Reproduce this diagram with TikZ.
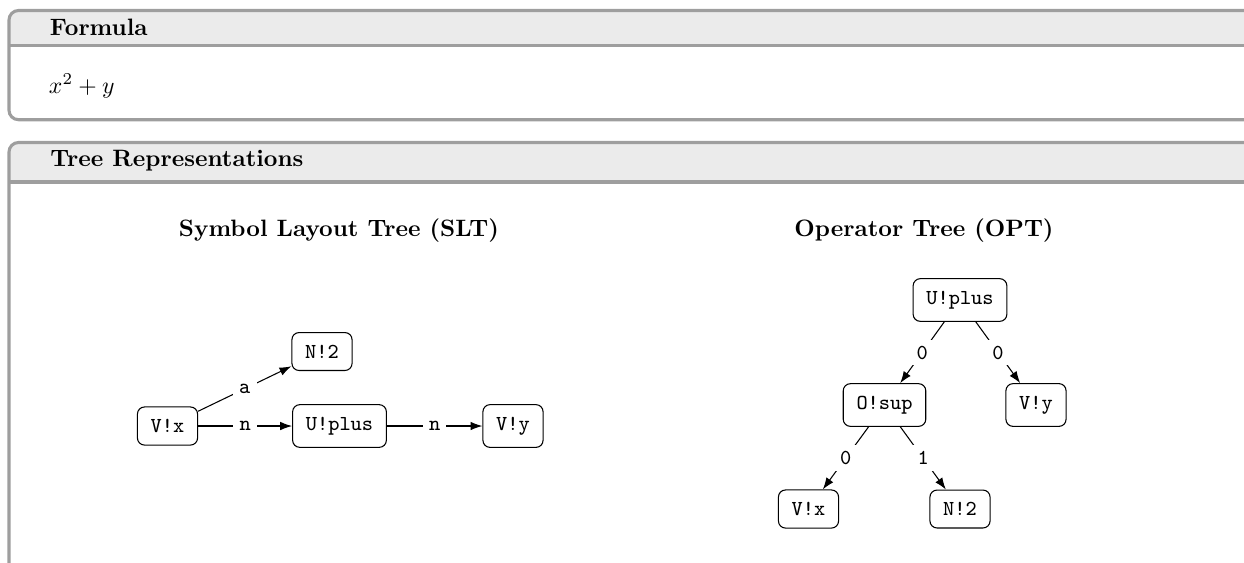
\documentclass[tikz,border=0pt]{standalone}
\usetikzlibrary{arrows.meta}
\definecolor{framegray}{HTML}{9E9E9E}
\definecolor{headgray}{HTML}{EBEBEB}
\begin{document}
\begin{tikzpicture}[x=0.4219pt,y=-0.4219pt,
  panelrule/.style={draw=framegray,line width=1.3pt},
  tnode/.style={draw,rounded corners=3pt,font=\small\ttfamily,
    inner xsep=5.6pt,inner ysep=5.2pt,line width=0.45pt},
  elabel/.style={fill=white,font=\small\ttfamily,inner sep=2.6pt},
  link/.style={-{Latex[length=5pt,width=3.6pt]},line width=0.45pt},
  headtext/.style={anchor=base west,inner sep=0pt,font=\bfseries},
  subtitle/.style={anchor=base,inner sep=0pt,font=\bfseries},
]
\useasboundingbox (0,0) rectangle (1244,562);

% --- panels (running off the right and bottom edges) ---
\begin{scope}
  \clip (0,0) rectangle (1244,562);
  % Formula panel
  \fill[white,rounded corners=4pt] (9,10.5) rectangle (1300,119.7);
  \begin{scope}
    \clip[rounded corners=4pt] (9,10.5) rectangle (1300,119.7);
    \fill[headgray] (9,10.5) rectangle (1300,45.3);
  \end{scope}
  \draw[panelrule] (9,45.3) -- (1300,45.3);
  \draw[panelrule,rounded corners=4pt] (9,10.5) rectangle (1300,119.7);
  % Tree panel
  \fill[white,rounded corners=4pt] (9,142.5) rectangle (1300,640);
  \begin{scope}
    \clip[rounded corners=4pt] (9,142.5) rectangle (1300,640);
    \fill[headgray] (9,142.5) rectangle (1300,182);
  \end{scope}
  \draw[panelrule] (9,182) -- (1300,182);
  \draw[panelrule,rounded corners=4pt] (9,142.5) rectangle (1300,640);
\end{scope}

% --- panel texts ---
\node[headtext] (formulahead) at (49.5,35.7) {Formula};
\node[anchor=base west,inner sep=0pt] (formula) at (48.5,93) {$x^2+y$};
\node[headtext] (treehead) at (50,166.7) {Tree Representations};
\node[subtitle] (slttitle) at (339,236.7) {Symbol Layout Tree (SLT)};
\node[subtitle] (opttitle) at (924,236.7) {Operator Tree (OPT)};

% --- symbol layout tree ---
\node[tnode] (sx)    at (167.5,426) {V!x};
\node[tnode] (s2)    at (322,351.5) {N!2};
\node[tnode] (splus) at (339.5,426) {U!plus};
\node[tnode] (sy)    at (513,426)   {V!y};
\draw[link] (sx) -- node[elabel] {a} (s2);
\draw[link] (sx) -- node[elabel] {n} (splus);
\draw[link] (splus) -- node[elabel] {n} (sy);

% --- operator tree ---
\node[tnode] (oplus) at (960,300)   {U!plus};
\node[tnode] (osup)  at (884.5,405) {O!sup};
\node[tnode] (oy)    at (1036,405)  {V!y};
\node[tnode] (ox)    at (808.5,509) {V!x};
\node[tnode] (o2)    at (960,509)   {N!2};
\draw[link] (oplus) -- node[elabel] {0} (osup);
\draw[link] (oplus) -- node[elabel] {0} (oy);
\draw[link] (osup) -- node[elabel] {0} (ox);
\draw[link] (osup) -- node[elabel] {1} (o2);
\end{tikzpicture}
\end{document}
